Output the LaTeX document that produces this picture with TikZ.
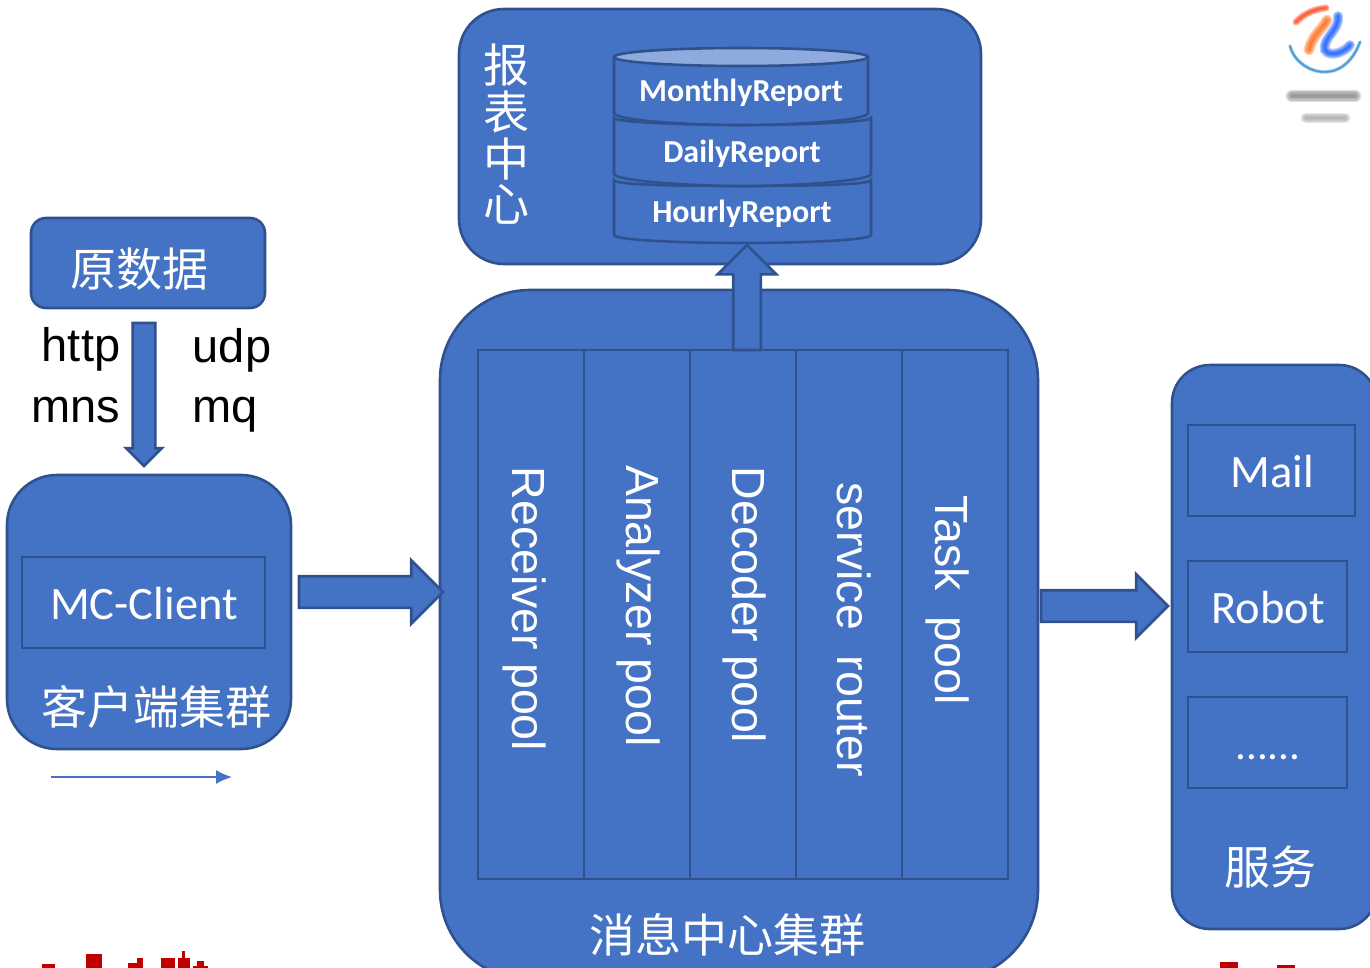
\documentclass[tikz,border=0pt]{standalone}
\usepackage{fontspec}
\setmainfont{Liberation Sans}
\newfontfamily\cjk{Noto Sans CJK SC}
\newfontfamily\carlito{Carlito}
\usepackage{tikz}
\usetikzlibrary{shapes.arrows,arrows.meta}
\definecolor{BoxBlue}{HTML}{4472C4}
\definecolor{EdgeBlue}{HTML}{2F528F}
\definecolor{LidBlue}{HTML}{8FAADC}
\definecolor{MarkRed}{HTML}{C00000}

\begin{document}
\begin{tikzpicture}[x=1pt,y=-1pt]
\tikzset{
box/.style={ rectangle , anchor=north west , inner sep=0pt , outer sep=0pt ,
line width=2.6pt , draw=EdgeBlue , fill=BoxBlue , text=white },
bigbox/.style={ box , rounded corners=#1 },
whitetext/.style={ inner sep=0pt , text=white },
cjklabel/.style={ whitetext , font=\cjk\fontsize{46}{50}\selectfont },
sanslabel/.style={ whitetext , font=\carlito\fontsize{46.5}{50}\selectfont },
poollabel/.style={ whitetext , rotate=-90 , font=\fontsize{46.5}{50}\selectfont },
proto/.style={ inner sep=0pt , text=black , font=\fontsize{47}{50}\selectfont },
report/.style={ whitetext , font=\carlito\bfseries\fontsize{32}{35}\selectfont },
blockarrow/.style={ single arrow , anchor=tail , inner sep=0pt , outer sep=0pt ,
single arrow head indent=0pt , line width=2.6pt , draw=EdgeBlue , fill=BoxBlue },
layer/.style={ line width=2.6pt , draw=EdgeBlue , fill=BoxBlue },
redmark/.style={ fill=MarkRed },
logoline/.style={ line cap=round , draw opacity=.28 }
}
\useasboundingbox (0,0) rectangle (1370,968);

\node[bigbox=45pt, minimum width=522pt, minimum height=255pt] (reportbox) at (459,9) {};
\node[bigbox=90pt, minimum width=598pt, minimum height=690pt] (centerbox) at (440,290) {};
\node[bigbox=15pt, minimum width=234pt, minimum height=90pt] (rawbox) at (31,218) {};
\node[bigbox=50pt, minimum width=284pt, minimum height=274pt] (clientbox) at (7,475) {};
\node[bigbox=38pt, minimum width=205pt, minimum height=564pt] (servicebox) at (1172,365) {};

\node[cjklabel] (reportone) at (506,65) {报};
\node[cjklabel] (reporttwo) at (506,112) {表};
\node[cjklabel] (reportthree) at (506,159) {中};
\node[cjklabel] (reportfour) at (506,204) {心};

\draw[layer] (614,180) -- (614,235) .. controls (614,240) and (680,243) .. (742,243) .. controls (805,243) and (871,240) .. (871,235) -- (871,180) .. controls (871,185) and (805,186) .. (742,186) .. controls (680,186) and (614,185) .. (614,180) -- cycle;
\draw[layer] (614,118) -- (614,174) .. controls (614,180) and (680,186) .. (742,186) .. controls (805,186) and (871,180) .. (871,174) -- (871,118) .. controls (871,122) and (805,125) .. (742,125) .. controls (680,125) and (614,122) .. (614,118) -- cycle;
\draw[layer] (614,57) -- (614,113) .. controls (614,120) and (680,125) .. (741,125) .. controls (802,125) and (868,120) .. (868,113) -- (868,57) -- cycle;
\draw[layer, fill=LidBlue] (741,57) ellipse [x radius=127, y radius=9];

\node[report] (monthly) at (741,93) {MonthlyReport};
\node[report] (daily) at (742,154) {DailyReport};
\node[report] (hourly) at (742,214) {HourlyReport};

\node[box, minimum width=106pt, minimum height=529pt] (receiver) at (478,350) {};
\node[box, minimum width=106pt, minimum height=529pt] (analyzer) at (584,350) {};
\node[box, minimum width=106pt, minimum height=529pt] (decoder) at (690,350) {};
\node[box, minimum width=106pt, minimum height=529pt] (router) at (796,350) {};
\node[box, minimum width=106pt, minimum height=529pt] (task) at (902,350) {};

\node[poollabel] (receivertext) at (525,609) {Receiver pool};
\node[poollabel] (analyzertext) at (639,606) {Analyzer pool};
\node[poollabel] (decodertext) at (745,605) {Decoder pool};
\node[poollabel] (routertext) at (854,630) {service\ \ router};
\node[poollabel] (tasktext) at (948,600) {Task\ \ pool};
\node[cjklabel] (centertitle) at (727,935) {消息中心集群};

\node[cjklabel] (rawtitle) at (139,269) {原数据};
\node[proto] (http) at (81,349) {http};
\node[proto] (mns) at (76,410) {mns};
\node[proto] (udp) at (232,350) {udp};
\node[proto] (mq) at (225,415) {mq};

\node[box, minimum width=243pt, minimum height=91pt] (mcclient) at (22,557) {};
\node[sanslabel] (mcclienttext) at (144,604) {MC-Client};
\node[cjklabel] (clienttitle) at (156,707) {客户端集群};

\node[box, minimum width=167pt, minimum height=91pt] (mail) at (1188,425) {};
\node[sanslabel] (mailtext) at (1272,472) {Mail};
\node[box, minimum width=159pt, minimum height=91pt] (robot) at (1188,561) {};
\node[sanslabel] (robottext) at (1268,608) {Robot};
\node[box, minimum width=159pt, minimum height=91pt] (more) at (1188,697) {};
\node[sanslabel] (moretext) at (1268,757) {\fontsize{43}{46}\selectfont ......};
\node[cjklabel] (servicetitle) at (1270,867) {服务};

\node[blockarrow, shape border rotate=270, inner xsep=10pt, minimum height=143pt, single arrow head extend=6.5pt] (downarrow) at (144,323) {};
\node[blockarrow, inner ysep=14.5pt, minimum height=144pt, single arrow head extend=16pt] (clientarrow) at (299,592) {};
\node[blockarrow, inner ysep=14.5pt, minimum height=127pt, single arrow head extend=16pt] (servicearrow) at (1041,606) {};
\node[blockarrow, shape border rotate=90, inner xsep=12.5pt, minimum height=105pt, single arrow head extend=15.5pt] (reportarrow) at (747,350) {};

\coordinate (thinstart) at (51,777);
\coordinate (thinend) at (232,777);
\draw[BoxBlue, line width=1.5pt, -{Latex[length=16pt,width=14pt]}] (thinstart) -- (thinend);

% logo
\foreach \w in {1,3,5,7,9} {
\draw[logoline, orange!70!red, line width=1.2*\w pt] (1309,50) .. controls (1312,35) and (1322,30) .. (1327,20);
\draw[logoline, red!60!orange, line width=.8*\w pt] (1296,22) .. controls (1306,12) and (1316,9) .. (1326,8);
\draw[logoline, blue!70!cyan, line width=1.1*\w pt] (1338,16) .. controls (1340,30) and (1322,38) .. (1325,50) .. controls (1330,58) and (1345,52) .. (1350,45);
\draw[logoline, cyan!60!blue, line width=.4*\w pt] (1290,46) .. controls (1296,72) and (1342,90) .. (1360,42);
\draw[logoline, gray, line width=1.4*\w pt] (1292,96) -- (1355,96);
\draw[logoline, gray!70, line width=1.2*\w pt] (1306,118) -- (1345,118);
}

% red marks
\fill[redmark] (42,964) rectangle (55,968);
\fill[redmark] (86,954) rectangle (102,968);
\fill[redmark] (128,963) rectangle (143,968);
\fill[redmark] (137,958) rectangle (143,968);
\fill[redmark] (161,958) rectangle (175,968);
\fill[redmark] (178,958) rectangle (190,968);
\fill[redmark] (182,951) rectangle (185,968);
\fill[redmark] (193,966) rectangle (208,968);
\fill[redmark] (197,961) rectangle (204,968);
\fill[redmark] (1220,962) rectangle (1238,968);
\fill[redmark] (1277,965) rectangle (1295,968);
\end{tikzpicture}
\end{document}
